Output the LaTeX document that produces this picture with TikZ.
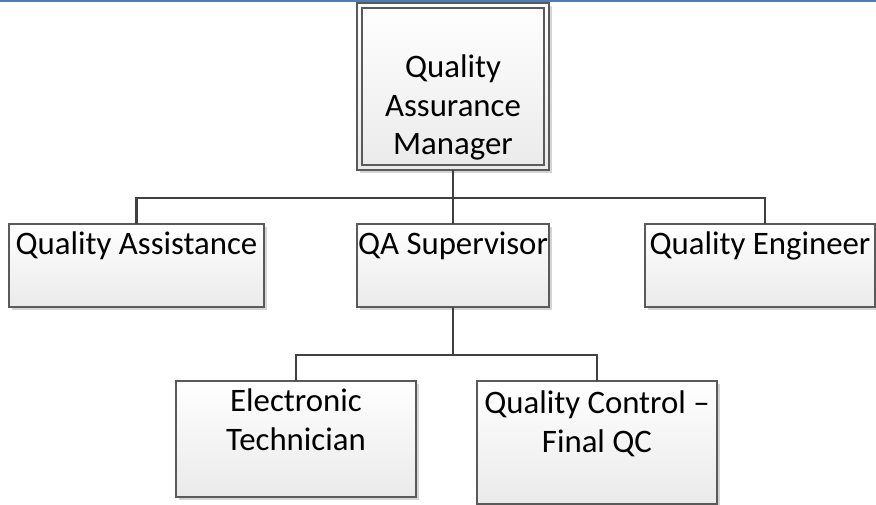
\documentclass[tikz,border=0pt]{standalone}
\usepackage{fontspec}
\setmainfont{Carlito}
\usetikzlibrary{shadows}
\definecolor{topblue}{HTML}{4A7EBB}
\definecolor{boxline}{HTML}{5A5A5A}
\definecolor{connc}{HTML}{404040}
\definecolor{shadowc}{HTML}{D4D4D4}
\definecolor{boxbottom}{HTML}{EAEAEA}
\tikzset{
  orgbox/.style={rectangle, draw=boxline, line width=1.1pt, inner sep=0pt, outer sep=0pt,
    top color=white, bottom color=boxbottom,
    general shadow={shadow xshift=3pt, shadow yshift=-3pt, fill=shadowc}},
  lbl/.style={font=\fontsize{32.8}{38.5}\selectfont, align=center, inner sep=0pt, text=black},
  conn/.style={draw=connc, line width=2.6pt},
}
\begin{document}
\begin{tikzpicture}[x=1pt,y=-1pt]
\useasboundingbox (0,0) rectangle (876,505);
\fill[white] (0,0) rectangle (876,505);
\fill[topblue] (0,0) rectangle (876,2);

% boxes
\node[orgbox, minimum width=192pt, minimum height=167pt] (mgr) at (453,86.5) {};
\draw[boxline, line width=1.1pt] ([shift={(5,5)}]mgr.north west) rectangle ([shift={(-5,-5)}]mgr.south east);
\node[orgbox, minimum width=255pt, minimum height=83pt] (qa) at (136.5,265.5) {};
\node[orgbox, minimum width=192pt, minimum height=83pt] (sup) at (453,265.5) {};
\node[orgbox, minimum width=230pt, minimum height=83pt] (qe) at (760,265.5) {};
\node[orgbox, minimum width=240pt, minimum height=116pt] (et) at (296,439) {};
\node[orgbox, minimum width=240pt, minimum height=123pt] (qc) at (597,442.5) {};

% labels (base = baseline of last line)
\node[lbl, anchor=base] (tmgr) at (453,155) {Quality\\Assurance\\Manager};
\node[lbl, anchor=base] (tqa) at (136.5,255) {Quality Assistance};
\node[lbl, anchor=base] (tsup) at (453,255) {QA Supervisor};
\node[lbl, anchor=base] (tqe) at (760,255) {Quality Engineer};
\node[lbl, anchor=base] (tet) at (296,450) {Electronic\\Technician};
\node[lbl, anchor=base] (tqc) at (597,452) {Quality Control –\\Final QC};

% connectors
\coordinate (j1) at (453,198);
\coordinate (j2) at (453,355);
\draw[conn] (mgr.south) -- (j1);
\draw[conn] (qa.north) |- (j1);
\draw[conn] ([xshift=5pt]qe.north) |- (j1);
\draw[conn] (sup.north) -- (j1);
\draw[conn] (sup.south) -- (j2);
\draw[conn] (et.north) |- (j2);
\draw[conn] (qc.north) |- (j2);
\end{tikzpicture}
\end{document}
